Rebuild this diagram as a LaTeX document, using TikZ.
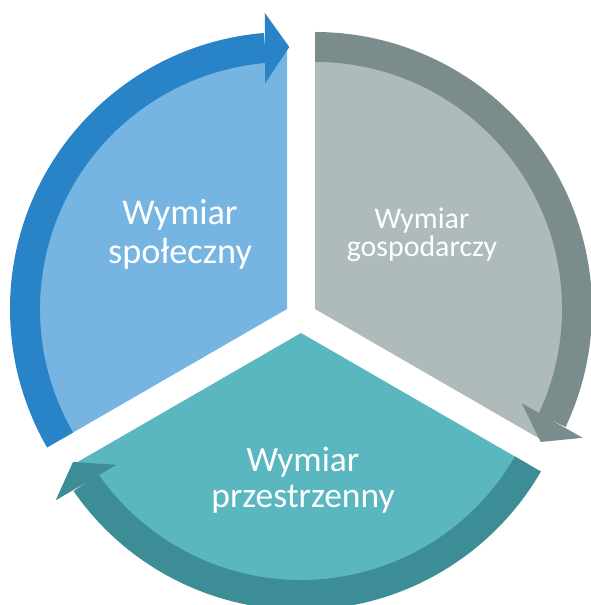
\documentclass[tikz,border=0pt]{standalone}
\usepackage{fontspec}
\setmainfont{Carlito}
\usepackage{tikz}

\definecolor{socialfill}{RGB}{118,181,226}
\definecolor{socialarrow}{RGB}{41,132,199}
\definecolor{economyfill}{RGB}{174,187,186}
\definecolor{economyarrow}{RGB}{123,140,140}
\definecolor{spacefill}{RGB}{90,182,191}
\definecolor{spacearrow}{RGB}{60,141,150}

\begin{document}
\begin{tikzpicture}[x=0.75pt,y=0.75pt,yscale=-1,xscale=1,
    dimlabel/.style={text=white, align=center, inner sep=0pt}]
    \useasboundingbox (0,0) rectangle (590,605); %diagram of 590 x 605

    %Shape: Sector (left)
    \fill [socialfill, shift={(287,309)}] (0,0) -- (150:262) arc [start angle=150, end angle=270, radius=262] -- cycle ;
    %Shape: Sector (right)
    \fill [economyfill, shift={(315,309)}] (0,0) -- (-90:262) arc [start angle=-90, end angle=30, radius=262] -- cycle ;
    %Shape: Sector (bottom)
    \fill [spacefill, shift={(301,333)}] (0,0) -- (30:262) arc [start angle=30, end angle=150, radius=262] -- cycle ;

    %Curve Arrow (left)
    \fill [socialarrow, shift={(287,309)}] (150:247) arc [start angle=150, end angle=265.2, radius=247] -- (265.2:277) arc [start angle=265.2, end angle=150, radius=277] -- cycle ;
    \fill [socialarrow, shift={(287,309)}] (264.5:227) -- (270.5:262) -- (265.7:297) -- cycle ;
    %Curve Arrow (right)
    \fill [economyarrow, shift={(315,309)}] (-90:247) arc [start angle=-90, end angle=25.2, radius=247] -- (25.2:277) arc [start angle=25.2, end angle=-90, radius=277] -- cycle ;
    \fill [economyarrow, shift={(315,309)}] (24.5:227) -- (30.5:262) -- (25.7:297) -- cycle ;
    %Curve Arrow (bottom)
    \fill [spacearrow, shift={(301,333)}] (30:247) arc [start angle=30, end angle=145.2, radius=247] -- (145.2:277) arc [start angle=145.2, end angle=30, radius=277] -- cycle ;
    \fill [spacearrow, shift={(301,333)}] (144.5:227) -- (150.5:262) -- (145.7:297) -- cycle ;

    % Text Node
    \draw (180,263.5) node [dimlabel, anchor=base, font=\fontsize{27.2}{28.9}\selectfont] (social) {Wymiar\\społeczny};
    % Text Node
    \draw (422,257) node [dimlabel, anchor=base, font=\fontsize{22.4}{21}\selectfont] (economy) {Wymiar\\gospodarczy};
    % Text Node
    \draw (303,507.3) node [dimlabel, anchor=base, font=\fontsize{26.6}{26.8}\selectfont] (space) {Wymiar\\przestrzenny};

\end{tikzpicture}
\end{document}
